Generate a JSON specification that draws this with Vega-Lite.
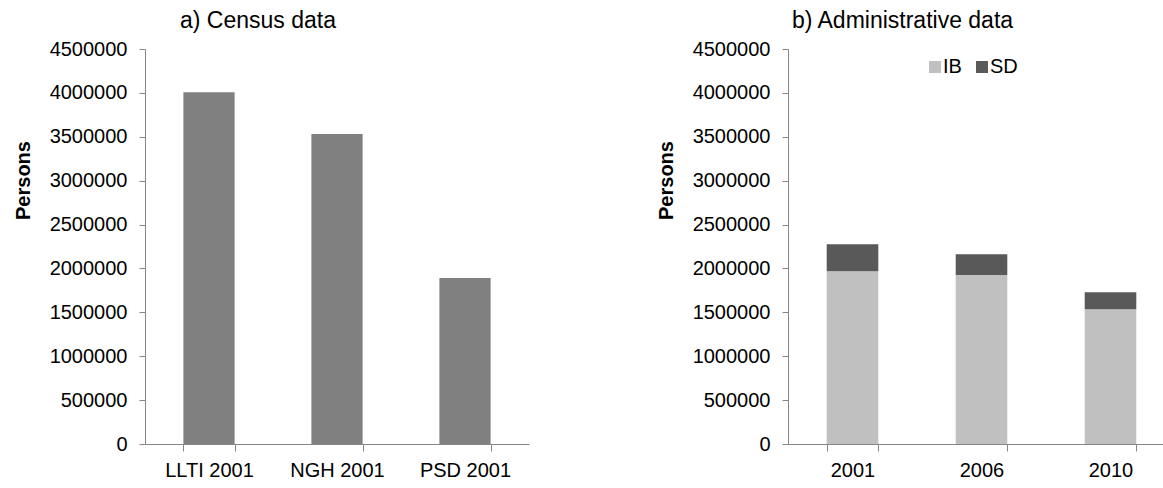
{
  "$schema": "https://vega.github.io/schema/vega-lite/v6.json",
  "padding": {"left": 13, "top": 10, "right": 0, "bottom": 0},
  "background": "white",
  "spacing": 127,
  "config": {
    "font": "Liberation Sans",
    "view": {"stroke": null},
    "axis": {
      "labelFont": "Liberation Sans",
      "labelFontSize": 20,
      "labelColor": "#000000",
      "domainColor": "#868686",
      "tickColor": "#868686",
      "grid": false,
      "titleFont": "Liberation Sans",
      "titleFontSize": 20,
      "titleFontWeight": "bold",
      "titleColor": "#000000"
    },
    "title": {"font": "Liberation Sans", "fontSize": 23, "fontWeight": "normal", "color": "#000000"},
    "legend": {
      "orient": "none",
      "legendX": 780,
      "legendY": 8,
      "direction": "horizontal",
      "padding": 0,
      "symbolType": "square",
      "symbolSize": 144,
      "symbolStrokeWidth": 0,
      "symbolOpacity": 1,
      "labelFont": "Liberation Sans",
      "labelFontSize": 20,
      "labelColor": "#000000",
      "labelOffset": -2,
      "columnSpacing": 5
    }
  },
  "hconcat": [
    {
      "width": 384,
      "height": 395,
      "title": {"text": "a) Census data", "offset": 6, "anchor": "middle", "dx": -79},
      "data": {"values": [
        {"category": "LLTI 2001", "persons": 4007000},
        {"category": "NGH 2001", "persons": 3531000},
        {"category": "PSD 2001", "persons": 1890000}
      ]},
      "mark": {"type": "bar", "color": "#808080"},
      "encoding": {
        "x": {
          "field": "category", "type": "nominal", "sort": null,
          "scale": {"paddingInner": 0.6, "paddingOuter": 0.3},
          "axis": {"title": null, "labelAngle": 0, "tickBand": "extent", "tickSize": 7, "labelPadding": 9}
        },
        "y": {
          "field": "persons", "type": "quantitative",
          "scale": {"domain": [0, 4500000]},
          "axis": {
            "title": "Persons",
            "values": [0, 500000, 1000000, 1500000, 2000000, 2500000, 3000000, 3500000, 4000000, 4500000],
            "format": "d", "tickSize": 6, "labelPadding": 12,
            "titleX": -122, "titleY": 131, "titleAngle": -90, "titleBaseline": "middle", "titleAlign": "center"
          }
        }
      }
    },
    {
      "width": 387,
      "height": 395,
      "title": {"text": "b) Administrative data", "offset": 6, "anchor": "middle", "dx": -79},
      "data": {"values": [
        {"year": "2001", "type": "IB", "persons": 1967000},
        {"year": "2001", "type": "SD", "persons": 308000},
        {"year": "2006", "type": "IB", "persons": 1925000},
        {"year": "2006", "type": "SD", "persons": 236000},
        {"year": "2010", "type": "IB", "persons": 1534000},
        {"year": "2010", "type": "SD", "persons": 194000}
      ]},
      "mark": {"type": "bar"},
      "encoding": {
        "x": {
          "field": "year", "type": "nominal", "sort": null,
          "scale": {"paddingInner": 0.6, "paddingOuter": 0.3},
          "axis": {"title": null, "labelAngle": 0, "tickBand": "extent", "tickSize": 7, "labelPadding": 9}
        },
        "y": {
          "field": "persons", "type": "quantitative", "stack": "zero",
          "scale": {"domain": [0, 4500000]},
          "axis": {
            "title": "Persons",
            "values": [0, 500000, 1000000, 1500000, 2000000, 2500000, 3000000, 3500000, 4000000, 4500000],
            "format": "d", "tickSize": 6, "labelPadding": 12,
            "titleX": -122, "titleY": 131, "titleAngle": -90, "titleBaseline": "middle", "titleAlign": "center"
          }
        },
        "color": {
          "field": "type", "type": "nominal",
          "scale": {"domain": ["IB", "SD"], "range": ["#C0C0C0", "#595959"]},
          "legend": {"title": null}
        },
        "order": {"field": "type", "sort": "ascending"}
      }
    }
  ]
}
